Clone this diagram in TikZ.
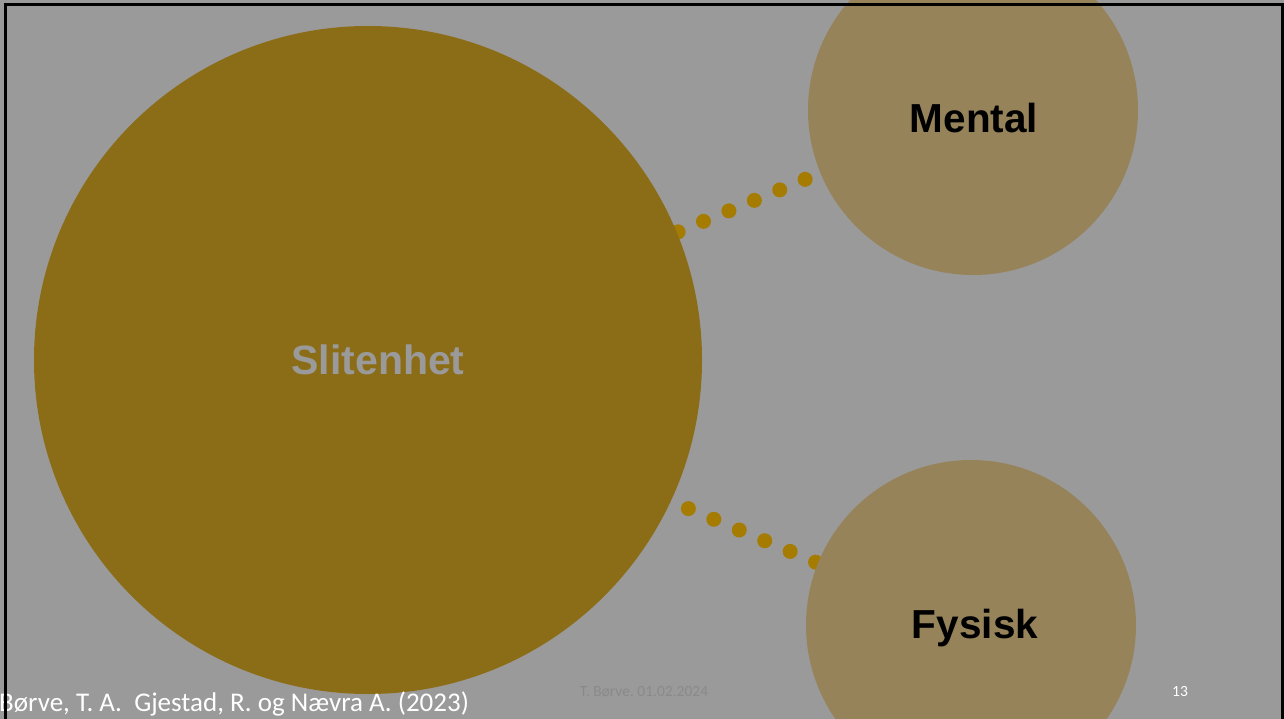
\documentclass[tikz,border=0pt]{standalone}
\usepackage{fontspec}
\setmainfont{Carlito}
\newfontfamily\arialbold{Liberation Sans}
\frenchspacing
\pgfdeclarelayer{bg}
\pgfdeclarelayer{links}
\pgfsetlayers{bg,links,main}
\definecolor{slidegray}{HTML}{9A9A9A}
\definecolor{biggold}{HTML}{8C6D17}
\definecolor{smallgold}{HTML}{96835A}
\definecolor{dotgold}{HTML}{A67C00}
\definecolor{footgray}{HTML}{8A8A8A}
\tikzset{
  bigcircle/.style={circle, fill=biggold, inner sep=0pt, outer sep=0pt, minimum size=668pt},
  smallcircle/.style={circle, fill=smallgold, inner sep=0pt, outer sep=0pt, minimum size=330pt},
  biglabel/.style={text=slidegray, inner sep=0pt, font=\arialbold\bfseries\fontsize{41}{41}\selectfont},
  circlelabel/.style={text=black, inner sep=0pt, font=\arialbold\bfseries\fontsize{40.5}{40.5}\selectfont},
  dotlink/.style={draw=dotgold, line width=15pt, line cap=round, dash pattern=on 0pt off 27.5pt},
  footer/.style={inner sep=0pt, text=white, font=\fontsize{27}{27}\selectfont},
  smallfoot/.style={inner sep=0pt, font=\fontsize{15.5}{15.5}\selectfont}
}
\begin{document}
\begin{tikzpicture}[x=1pt, y=-1pt]
\useasboundingbox (0,0) rectangle (1284,719);
\begin{pgfonlayer}{bg}
  \fill[slidegray] (0,0) rectangle (1284,719);
\end{pgfonlayer}
% circles
\node[bigcircle] (slit) at (368,360) {};
\node[smallcircle] (mental) at (973,110) {};
\node[smallcircle] (fysisk) at (971,625) {};
\node[biglabel] (slitlabel) at (378,360) {Slitenhet};
\node[circlelabel] (mentallabel) at (974,118) {Mental};
\node[circlelabel] (fysisklabel) at (975,628) {Fysisk};
% dotted connectors (behind circles)
\begin{pgfonlayer}{links}
  \draw[dotlink, dash phase=22pt] (slit.center) -- (mental.center);
  \draw[dotlink, dash pattern=on 0pt off 27.6pt, dash phase=8.4pt] (slit.-25.3) -- (fysisk.158);
\end{pgfonlayer}
% footer texts
\node[footer, anchor=base west] (ref) at (-1,711) {Børve, T. A.\ \ Gjestad, R. og Nævra A. (2023)};
\node[smallfoot, text=footgray] (date) at (644,692) {T. Børve. 01.02.2024};
\node[smallfoot, text=white] (page) at (1180,692) {13};
% frame
\draw[black, line width=3.5pt] (5.5,730) -- (5.5,4.5) -- (1282.5,4.5) -- (1282.5,730);
\end{tikzpicture}
\end{document}
